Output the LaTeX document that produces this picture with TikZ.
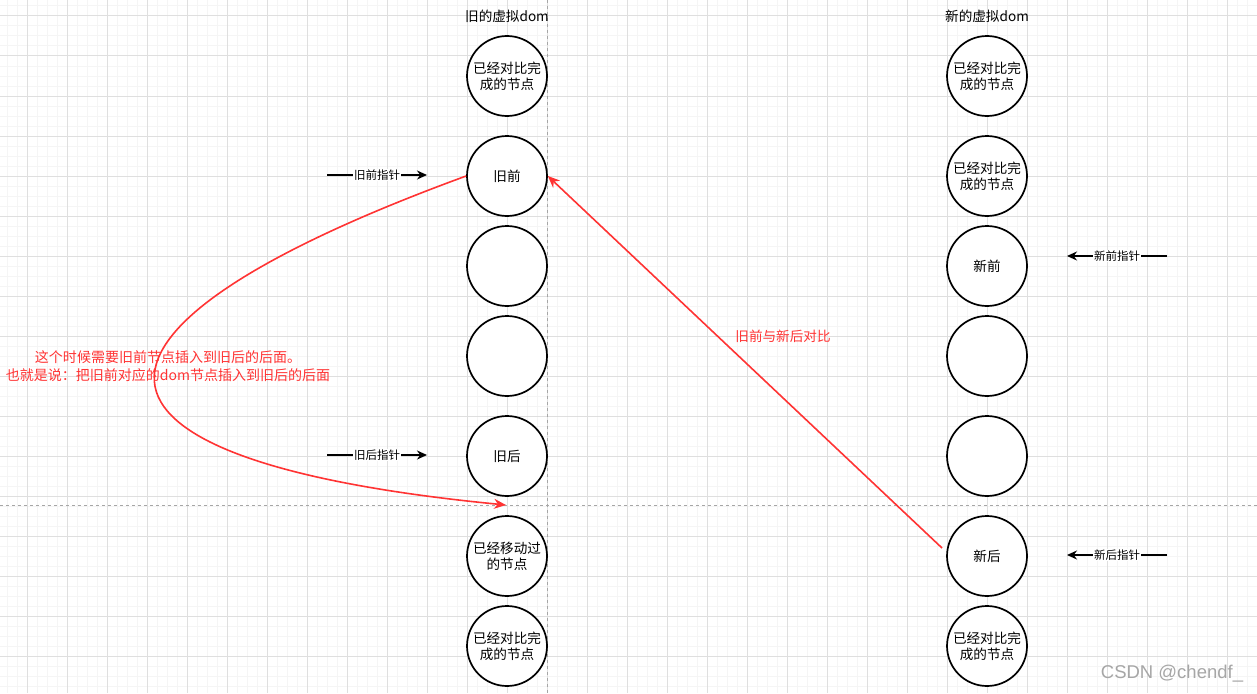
\documentclass[tikz,border=0pt]{standalone}
\usepackage{fontspec}
\setmainfont{Noto Sans CJK SC}
\newfontfamily\wmfont{Liberation Sans}
\usetikzlibrary{arrows.meta,positioning}
\definecolor{gridminor}{HTML}{F5F5F5}
\definecolor{gridmajor}{HTML}{DFDFDF}
\definecolor{cmpred}{HTML}{FF3333}

\tikzset{
  vnode/.style={draw=black, line width=1.7pt, fill=white, circle, minimum size=80pt, inner sep=0pt, align=center, font=\fontsize{13.6}{16}\selectfont},
  ptrlabel/.style={fill=white, inner sep=1pt, font=\fontsize{11.5}{13}\selectfont},
  ptrarrow/.style={line width=1.5pt, -{Stealth[length=10pt,width=9pt]}},
  redarrow/.style={cmpred, line width=1.6pt, -{Stealth[length=12pt,width=10pt]}},
  guide/.style={black!35, dashed, line width=0.6pt},
}

\begin{document}
\begin{tikzpicture}[x=1pt, y=-1pt]

\useasboundingbox (0,0) rectangle (1257,693);
\fill[white] (0,0) rectangle (1257,693);

% Draw the background grid (minor every 10, major every 40)
\foreach \x in {7,17,...,1257} {
    \draw[gridminor, line width=1pt] (\x,0) -- (\x,693);
}
\foreach \y in {6,16,...,693} {
    \draw[gridminor, line width=1pt] (0,\y) -- (1257,\y);
}
\foreach \x in {27,67,...,1257} {
    \draw[gridmajor, line width=1pt] (\x,0) -- (\x,693);
}
\foreach \y in {16,56,...,693} {
    \draw[gridmajor, line width=1pt] (0,\y) -- (1257,\y);
}

% Dashed guide lines
\draw[guide] (547,0) -- (547,693);
\draw[guide] (0,505) -- (1257,505);

% Column titles
\node[font=\fontsize{13.6}{16}\selectfont] (oldtitle) at (507,16) {旧的虚拟dom};
\node[font=\fontsize{13.6}{16}\selectfont] (newtitle) at (987,16) {新的虚拟dom};

% Old virtual dom
\node[vnode] (old1) at (507,76) {已经对比完\\成的节点};
\node[vnode] (old2) at (507,176) {旧前};
\node[vnode] (old3) at (507,266) {};
\node[vnode] (old4) at (507,356) {};
\node[vnode] (old5) at (507,456) {旧后};
\node[vnode] (old6) at (507,556) {已经移动过\\的节点};
\node[vnode] (old7) at (507,646) {已经对比完\\成的节点};

% New virtual dom
\node[vnode] (new1) at (987,76) {已经对比完\\成的节点};
\node[vnode] (new2) at (987,176) {已经对比完\\成的节点};
\node[vnode] (new3) at (987,266) {新前};
\node[vnode] (new4) at (987,356) {};
\node[vnode] (new5) at (987,456) {};
\node[vnode] (new6) at (987,556) {新后};
\node[vnode] (new7) at (987,646) {已经对比完\\成的节点};

% Pointers
\coordinate (oldfrontA) at (327,175);
\coordinate (oldfrontB) at (427,175);
\draw[ptrarrow] (oldfrontA) -- node[ptrlabel] (oldfrontlbl) {旧前指针} (oldfrontB);
\coordinate (oldbackA) at (327,455);
\coordinate (oldbackB) at (427,455);
\draw[ptrarrow] (oldbackA) -- node[ptrlabel] (oldbacklbl) {旧后指针} (oldbackB);
\coordinate (newfrontA) at (1167,256);
\coordinate (newfrontB) at (1067,256);
\draw[ptrarrow] (newfrontA) -- node[ptrlabel] (newfrontlbl) {新前指针} (newfrontB);
\coordinate (newbackA) at (1167,555);
\coordinate (newbackB) at (1067,555);
\draw[ptrarrow] (newbackA) -- node[ptrlabel] (newbacklbl) {新后指针} (newbackB);

% Compare old front with new back
\coordinate (cmpstart) at (942,548);
\draw[redarrow] (cmpstart) -- (old2.east);
\node[text=cmpred, font=\fontsize{13.6}{16}\selectfont] (cmplbl) at (783,336) {旧前与新后对比};

% Move old front behind old back
\coordinate (insertpt) at (506,505);
\draw[redarrow] (old2.west) .. controls (45,330) and (45,460) .. (insertpt);
\node[text=cmpred, align=center, font=\fontsize{14}{18}\selectfont] (movelbl) at (168,366)
    {这个时候需要旧前节点插入到旧后的后面。\\也就是说：把旧前对应的dom节点插入到旧后的后面};

% Watermark
\node[text=black!35, font=\wmfont\fontsize{18.5}{20}\selectfont] (wm) at (1172,674) {CSDN @chendf\_};

\end{tikzpicture}
\end{document}
